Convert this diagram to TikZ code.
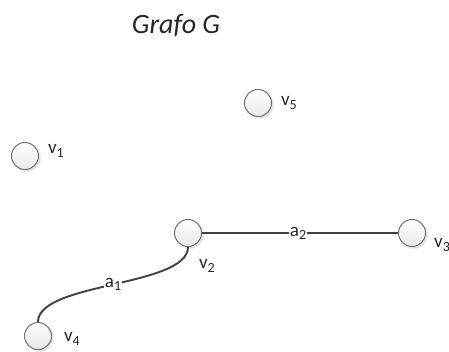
\documentclass[tikz,border=0pt]{standalone}
\usepackage{fontspec}
\setmainfont{Carlito}
\usetikzlibrary{shadows}
\definecolor{EdgeDark}{RGB}{65,65,65}
\definecolor{NodeRim}{RGB}{115,115,115}
\newcommand{\vsub}[1]{\raisebox{-0.35ex}{\fontsize{14}{14}\selectfont #1}}

\begin{document}
\begin{tikzpicture}[
    x=1pt,y=-1pt,
    vertex/.style={circle,draw=NodeRim,line width=1pt,minimum size=27pt,inner sep=0pt,
                   top color=white,bottom color=gray!18,
                   circular drop shadow={shadow xshift=1.3pt,shadow yshift=-1.3pt,opacity=0.25}},
    vname/.style={font=\fontsize{19}{21}\selectfont,inner sep=0pt,text=black!85},
    elabel/.style={font=\fontsize{19}{21}\selectfont,fill=white,inner sep=0.5pt,text=black!85},
    edge/.style={EdgeDark,line width=1.9pt}
  ]
    \useasboundingbox (0,0) rectangle (449,352);
    \node[font=\fontsize{28}{32}\selectfont\itshape,text=black!85] (title) at (176,26) {Grafo G};
    \node[vertex] (v1) at (25,156) {};
    \node[vertex] (v2) at (188,233) {};
    \node[vertex] (v3) at (412,233) {};
    \node[vertex] (v4) at (38,336) {};
    \node[vertex] (v5) at (258,103) {};
    \node[vname] (lv1) at (56,151) {v\vsub{1}};
    \node[vname] (lv2) at (207,266) {v\vsub{2}};
    \node[vname] (lv3) at (442,245) {v\vsub{3}};
    \node[vname] (lv4) at (72,339) {v\vsub{4}};
    \node[vname] (lv5) at (289,103) {v\vsub{5}};
    \draw[edge] (v2.east) -- node[elabel,pos=0.49] (a2) {a\vsub{2}} (v3.west);
    \draw[edge] (v2.south) .. controls +(0,40) and +(0,-40) .. node[elabel,pos=0.5] (a1) {a\vsub{1}} (v4.north);
  \end{tikzpicture}
\end{document}
